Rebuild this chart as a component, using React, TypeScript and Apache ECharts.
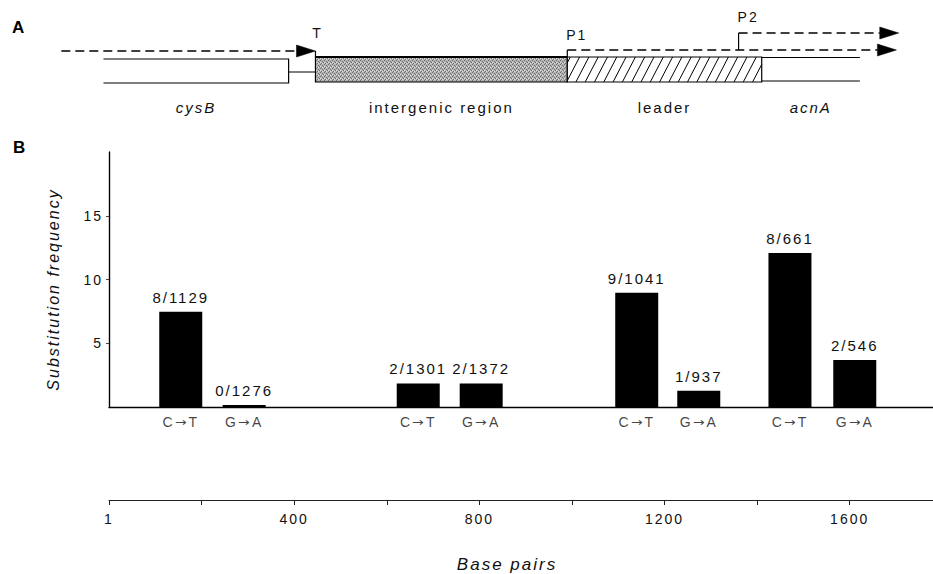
import React, { useEffect, useRef } from "react";
import * as echarts from "echarts";

// ---------- data ----------
const positions = [155, 292, 668, 804, 1140, 1274, 1471, 1611]; // base pair position of each bar
const frequencies = [7.47, 0.15, 1.85, 1.85, 8.96, 1.28, 12.08, 3.69];
const fractions = ["8/1129", "0/1276", "2/1301", "2/1372", "9/1041", "1/937", "8/661", "2/546"];
const substitutions = ["C→T", "G→A", "C→T", "G→A", "C→T", "G→A", "C→T", "G→A"];
const freqTicks = [5, 10, 15];
const bpTicks = [0, 200, 400, 600, 800, 1000, 1200, 1400, 1600];
const bpLabelValues = [0, 400, 800, 1200, 1600];
const bpLabels = ["1", "400", "800", "1200", "1600"];

// gene map (base pairs)
const regionNames = ["cysB", "intergenic region", "leader", "acnA"];
const regionItalic = [true, false, false, true];
const regionStart = [-12, 446, 990, 1410];
const regionEnd = [388, 990, 1410, 1622];
const transcriptNames = ["T", "P1", "P2"];
const transcriptStart = [-103, 990, 1360];
const transcriptEnd = [446, 1701, 1706];

const FONT = '"Liberation Sans", Arial, Helvetica, sans-serif';
const FONT_ARROW = '"ArrowGlyph", "Liberation Sans", Arial, Helvetica, sans-serif';

function makeStipple(): HTMLCanvasElement {
  const c = document.createElement("canvas");
  c.width = 4;
  c.height = 4;
  const ctx = c.getContext("2d")!;
  ctx.fillStyle = "#b4b4b4";
  ctx.fillRect(0, 0, 4, 4);
  ctx.fillStyle = "#6e6e6e";
  ctx.fillRect(0, 0, 1, 1);
  ctx.fillRect(2, 1, 1, 1);
  ctx.fillRect(1, 3, 1, 1);
  ctx.fillRect(3, 2, 1, 1);
  ctx.fillStyle = "#e0e0e0";
  ctx.fillRect(2, 3, 1, 1);
  ctx.fillRect(0, 2, 1, 1);
  return c;
}

export default function App() {
  const ref = useRef<HTMLDivElement>(null);

  useEffect(() => {
    if (!ref.current) return;
    const chart = echarts.init(ref.current, undefined, { renderer: "svg" });

    chart.setOption({
      animation: false,
      backgroundColor: "#fff",
      textStyle: { fontFamily: FONT, color: "#111" },
      grid: [
        { left: 109, width: 824, top: 152, height: 255 },
        { left: 109, width: 824, top: 499, height: 1 },
      ],
      xAxis: [
        {
          type: "value",
          gridIndex: 0,
          min: 0,
          max: 1780,
          axisLine: { show: true, lineStyle: { color: "#000", width: 1.4 } },
          axisTick: { show: false },
          axisLabel: { show: false },
          splitLine: { show: false },
        },
        {
          type: "value",
          gridIndex: 1,
          min: 0,
          max: 1780,
          interval: 200,
          position: "bottom",
          name: "Base pairs",
          nameLocation: "middle",
          nameGap: 56,
          nameTextStyle: {
            fontSize: 17,
            fontStyle: "italic",
            color: "#111",
            fontFamily: FONT,
            padding: [0, 28, 0, 0],
          },
          axisLine: { show: true, lineStyle: { color: "#222", width: 1.2 } },
          axisTick: {
            show: true,
            length: 5,
            inside: false,
            customValues: bpTicks,
            lineStyle: { color: "#222" },
          },
          axisLabel: {
            show: true,
            margin: 12,
            fontSize: 14,
            color: "#111",
            fontFamily: FONT,
            customValues: bpLabelValues,
            formatter: (v: number) => bpLabels[bpLabelValues.indexOf(v)] ?? "",
          },
          splitLine: { show: false },
        },
      ],
      yAxis: [
        {
          type: "value",
          gridIndex: 0,
          min: 0,
          max: 20,
          interval: 5,
          name: "Substitution frequency",
          nameLocation: "middle",
          nameGap: 48,
          nameTextStyle: {
            fontSize: 16,
            fontStyle: "italic",
            color: "#111",
            fontFamily: FONT,
            padding: [0, 20, 0, 0],
          },
          axisLine: { show: true, lineStyle: { color: "#000", width: 1.4 } },
          axisTick: {
            show: true,
            length: 3,
            customValues: freqTicks,
            lineStyle: { color: "#444" },
          },
          axisLabel: {
            show: true,
            margin: 6,
            fontSize: 14,
            color: "#111",
            fontFamily: FONT,
            customValues: freqTicks,
          },
          splitLine: { show: false },
        },
        { type: "value", gridIndex: 1, show: false, min: 0, max: 1 },
      ],
      series: [
        {
          type: "bar",
          xAxisIndex: 0,
          yAxisIndex: 0,
          barWidth: 43,
          itemStyle: { color: "#000" },
          data: positions.map((p, i) => [p, frequencies[i]]),
          label: {
            show: true,
            position: "top",
            distance: 7,
            fontSize: 15,
            color: "#111",
            fontFamily: FONT,
            formatter: (p: any) => fractions[p.dataIndex],
          },
        },
        {
          type: "scatter",
          xAxisIndex: 0,
          yAxisIndex: 0,
          symbolSize: 1,
          itemStyle: { color: "rgba(0,0,0,0)" },
          data: positions.map((p) => [p, 0]),
          label: {
            show: true,
            position: "bottom",
            distance: 7,
            fontSize: 14,
            color: "#111",
            fontFamily: FONT_ARROW,
            formatter: (p: any) => substitutions[p.dataIndex],
          },
          silent: true,
        },
      ],
    });

    // ---------- gene map (panel A), placed with the base-pair axis ----------
    const px = (bp: number) => chart.convertToPixel({ xAxisIndex: 0 }, bp) as number;
    const black = "#000";
    const g: any[] = [];

    const boxTop = 57;
    const boxBot = 82;

    // cysB: open box
    {
      const x0 = px(regionStart[0]);
      const x1 = px(regionEnd[0]);
      g.push({
        type: "polyline",
        shape: { points: [[x0, 59], [x1, 59], [x1, 83], [x0, 83]] },
        style: { stroke: black, lineWidth: 1.2, fill: "none" },
      });
      g.push({
        type: "line",
        shape: { x1: x1, y1: 72, x2: px(regionStart[1]), y2: 72 },
        style: { stroke: black, lineWidth: 1 },
      });
    }
    // intergenic region (stippled grey)
    {
      const x0 = px(regionStart[1]);
      const x1 = px(regionEnd[1]);
      g.push({
        type: "rect",
        shape: { x: x0, y: boxTop, width: x1 - x0, height: boxBot - boxTop },
        style: { fill: "#a4a4a4", stroke: black, lineWidth: 1.2 },
      });
      let pattern: any = null;
      try {
        const cv = makeStipple();
        pattern = { image: cv.toDataURL(), repeat: "repeat", imageWidth: 4, imageHeight: 4 };
      } catch (e) {
        pattern = null;
      }
      if (pattern) {
        g.push({
          type: "rect",
          shape: { x: x0 + 1, y: boxTop + 1, width: x1 - x0 - 2, height: boxBot - boxTop - 2 },
          style: { fill: pattern },
        });
      }
      g.push({
        type: "line",
        shape: { x1: x0, y1: boxTop, x2: x1, y2: boxTop },
        style: { stroke: black, lineWidth: 2 },
      });
    }
    // leader (hatched)
    {
      const x0 = px(regionStart[2]);
      const x1 = px(regionEnd[2]);
      g.push({
        type: "rect",
        shape: { x: x0, y: boxTop, width: x1 - x0, height: boxBot - boxTop },
        style: { fill: "#fff", stroke: black, lineWidth: 1.2 },
      });
      const step = 9.3;
      const slant = 13;
      for (let bx = x0 - slant + 3; bx < x1; bx += step) {
        let xa = bx;
        let ya = boxBot;
        let xb = bx + slant;
        let yb = boxTop;
        if (xa < x0) {
          const t = (x0 - bx) / slant;
          xa = x0;
          ya = boxBot + (boxTop - boxBot) * t;
        }
        if (xb > x1) {
          const t = (x1 - bx) / slant;
          xb = x1;
          yb = boxBot + (boxTop - boxBot) * t;
        }
        g.push({
          type: "line",
          shape: { x1: xa, y1: ya, x2: xb, y2: yb },
          style: { stroke: black, lineWidth: 1 },
        });
      }
    }
    // acnA: open box
    {
      const x0 = px(regionStart[3]);
      const x1 = px(regionEnd[3]);
      g.push({
        type: "line",
        shape: { x1: x0, y1: 57.5, x2: x1, y2: 57.5 },
        style: { stroke: black, lineWidth: 1.2 },
      });
      g.push({
        type: "line",
        shape: { x1: x0, y1: 81, x2: x1, y2: 81 },
        style: { stroke: black, lineWidth: 1.2 },
      });
    }
    // region labels
    regionNames.forEach((name, i) => {
      g.push({
        type: "text",
        style: {
          text: name,
          x: (px(regionStart[i]) + px(regionEnd[i])) / 2,
          y: 107,
          textAlign: "center",
          textVerticalAlign: "middle",
          fontSize: 15,
          fontStyle: regionItalic[i] ? "italic" : "normal",
          fontFamily: FONT,
          fill: "#111",
        },
      });
    });

    // transcripts
    const arrowLen = 19;
    const arrowHalf = 6;
    const dashed = { stroke: black, lineWidth: 1.5, lineDash: [9, 5] };
    const drawArrow = (xs: number, xe: number, y: number) => {
      g.push({
        type: "line",
        shape: { x1: xs, y1: y, x2: xe - arrowLen, y2: y },
        style: dashed,
      });
      g.push({
        type: "polygon",
        shape: { points: [[xe - arrowLen, y - arrowHalf], [xe, y], [xe - arrowLen, y + arrowHalf]] },
        style: { fill: black, stroke: black, lineWidth: 0.5 },
      });
    };
    // T
    {
      const xs = px(transcriptStart[0]);
      const xe = px(transcriptEnd[0]);
      drawArrow(xs, xe, 51);
      g.push({
        type: "line",
        shape: { x1: xe, y1: 51, x2: xe, y2: boxTop },
        style: { stroke: black, lineWidth: 1.2 },
      });
      g.push({
        type: "text",
        style: {
          text: transcriptNames[0],
          x: xe + 2,
          y: 33,
          textAlign: "center",
          textVerticalAlign: "middle",
          fontSize: 14,
          fontFamily: FONT,
          fill: "#111",
        },
      });
    }
    // P1
    {
      const xs = px(transcriptStart[1]);
      const xe = px(transcriptEnd[1]);
      g.push({
        type: "line",
        shape: { x1: xs, y1: boxTop, x2: xs, y2: 50 },
        style: { stroke: black, lineWidth: 1.2 },
      });
      drawArrow(xs, xe, 50);
      g.push({
        type: "text",
        style: {
          text: transcriptNames[1],
          x: xs - 1,
          y: 35,
          textAlign: "left",
          textVerticalAlign: "middle",
          fontSize: 14,
          fontFamily: FONT,
          fill: "#111",
        },
      });
    }
    // P2
    {
      const xs = px(transcriptStart[2]);
      const xe = px(transcriptEnd[2]);
      g.push({
        type: "line",
        shape: { x1: xs, y1: 50, x2: xs, y2: 33 },
        style: { stroke: black, lineWidth: 1.2 },
      });
      drawArrow(xs, xe, 33);
      g.push({
        type: "text",
        style: {
          text: transcriptNames[2],
          x: xs - 1,
          y: 17,
          textAlign: "left",
          textVerticalAlign: "middle",
          fontSize: 14,
          fontFamily: FONT,
          fill: "#111",
        },
      });
    }

    // panel letters
    g.push({
      type: "text",
      style: {
        text: "A",
        x: 12,
        y: 27,
        textVerticalAlign: "middle",
        fontSize: 17,
        fontWeight: "bold",
        fontFamily: FONT,
        fill: "#000",
      },
    });
    g.push({
      type: "text",
      style: {
        text: "B",
        x: 13,
        y: 147,
        textVerticalAlign: "middle",
        fontSize: 17,
        fontWeight: "bold",
        fontFamily: FONT,
        fill: "#000",
      },
    });

    chart.setOption({ graphic: g });

    return () => chart.dispose();
  }, []);

  return (
    <>
      <style>
        {'@font-face{font-family:"ArrowGlyph";src:local("DejaVu Sans"),local("DejaVuSans");unicode-range:U+2190-21FF;} body{margin:0} .fig svg text{letter-spacing:2px}'}
      </style>
      <div
        className="fig"
        ref={ref}
        style={{ width: 933, height: 574, position: "absolute", left: 0, top: 0 }}
      />
    </>
  );
}
